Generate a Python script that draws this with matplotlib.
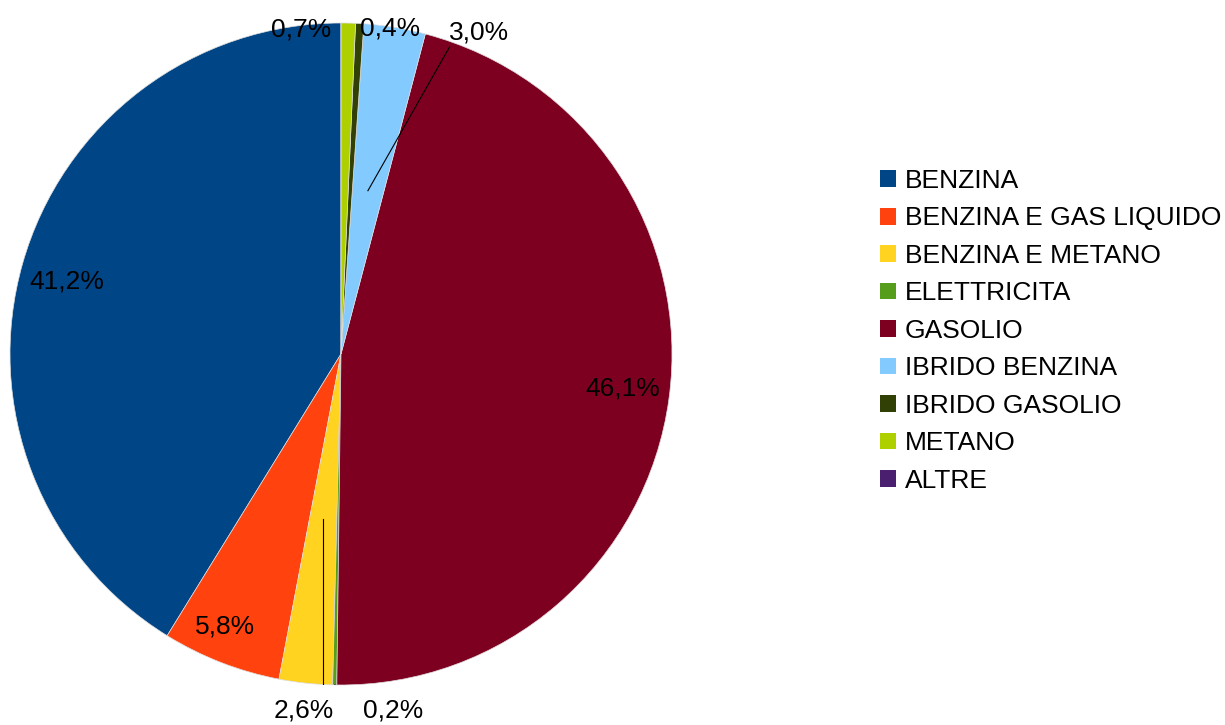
import matplotlib.pyplot as plt
import numpy as np

alimentazioni = ["BENZINA", "BENZINA E GAS LIQUIDO", "BENZINA E METANO", "ELETTRICITA",
                 "GASOLIO", "IBRIDO BENZINA", "IBRIDO GASOLIO", "METANO", "ALTRE"]
quote = [41.2, 5.8, 2.6, 0.2, 46.1, 3.0, 0.4, 0.7, 0.0]
colori = ["#004586", "#ff420e", "#ffd320", "#579d1c", "#7e0021",
          "#83caff", "#314004", "#aecf00", "#4b1f6f"]

plt.rcParams['font.family'] = ['Liberation Sans', 'DejaVu Sans']

fig = plt.figure(figsize=(12.25, 7.25), dpi=100)
ax = fig.add_axes([10 / 1225, 40 / 725, 662 / 1225, 662 / 725])

wedges, _ = ax.pie(quote, colors=colori, startangle=90, counterclock=True,
                   radius=1.0, wedgeprops=dict(linewidth=0.5, edgecolor="#dddddd"))
ax.set_xlim(-1, 1)
ax.set_ylim(-1, 1)
ax.set_aspect('equal')
ax.axis('off')


def polare(r, ang):
    return r * np.cos(np.radians(ang)), r * np.sin(np.radians(ang))


# posizione etichetta: (raggio, scarto angolare rispetto al centro dello spicchio), linea guida
etichette = {
    0: (0.856, 1.1, None),
    1: (0.896, -1.8, None),
    2: (1.084, 0.2, "dentro"),
    3: (1.09, 9.4, "bordo"),
    4: (0.859, 0.7, None),
    5: (1.058, -13.8, "dentro"),
    6: (0.993, -5.3, None),
    7: (0.989, 8.2, None),
}

inizio = 90.0
for i, (q, w) in enumerate(zip(quote, wedges)):
    medio = inizio + q * 3.6 / 2
    inizio += q * 3.6
    if i not in etichette:
        continue
    r, scarto, guida = etichette[i]
    x, y = polare(r, medio + scarto)
    testo = f"{q:.1f}%".replace(".", ",")
    ax.text(x, y, testo, ha='center', va='center', fontsize=19, color='black')
    if guida == "dentro":
        x0, y0 = polare(0.5, medio)
        if i == 2:
            x1, y1 = x0, y + 0.051
        else:
            x1, y1 = x - 0.088, y - 0.045
        ax.plot([x0, x1], [y0, y1], color='black', linewidth=0.8)
    elif guida == "bordo":
        x0, y0 = polare(1.0, medio)
        ax.plot([x0, x - 0.088], [y0, y + 0.045], color='black', linewidth=0.8)

leg = fig.legend(wedges, alimentazioni, loc='upper left', bbox_to_anchor=(880 / 1225, 1 - 169 / 725),
                 frameon=False, fontsize=19, handlelength=0.6, handleheight=0.6,
                 handletextpad=0.34, labelspacing=0.51, borderpad=0, borderaxespad=0)
for h in leg.legend_handles:
    h.set_edgecolor('none')

fig.savefig("out.png", dpi=100)
